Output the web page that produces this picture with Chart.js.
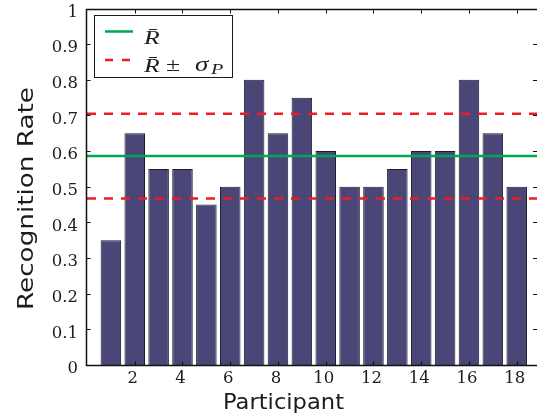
<!DOCTYPE html>
<html>
<head>
<meta charset="utf-8">
<script src="https://cdn.jsdelivr.net/npm/chart.js@4.4.1/dist/chart.umd.min.js"></script>
<style>
  html, body { margin: 0; padding: 0; background: #fff; }
  canvas { display: block; }
</style>
</head>
<body>
<canvas id="rateChart" width="537" height="419"></canvas>
<script>
// ---- data ----
const participants = [1, 2, 3, 4, 5, 6, 7, 8, 9, 10, 11, 12, 13, 14, 15, 16, 17, 18];
const recognitionRate = [0.35, 0.65, 0.55, 0.55, 0.45, 0.5, 0.8, 0.65, 0.75, 0.6, 0.5, 0.5, 0.55, 0.6, 0.6, 0.8, 0.65, 0.5];
const meanRate = [0.586, 0.586];
const upperRate = [0.705, 0.705];
const lowerRate = [0.467, 0.467];
const lineSpan = [0, 18.85];
const xTicks = [2, 4, 6, 8, 10, 12, 14, 16, 18];
const yTicks = [0, 0.1, 0.2, 0.3, 0.4, 0.5, 0.6, 0.7, 0.8, 0.9, 1];

const ink = '#1c1c1c';
const toPoints = (xs, ys) => xs.map((x, i) => ({ x, y: ys[i] }));

// text stretched to a target length (the source figure is scaled unevenly)
function stretchText(ctx, text, x, y, width) {
    const w = ctx.measureText(text).width;
    ctx.save();
    ctx.translate(x, y);
    ctx.scale(width / w, 1);
    ctx.fillText(text, 0, 0);
    ctx.restore();
}

function glyph(ctx, text, x, y, sx) {
    ctx.save();
    ctx.translate(x, y);
    ctx.scale(sx, 1);
    ctx.fillText(text, 0, 0);
    ctx.restore();
}

// frame + inward ticks, matlab style
function drawFrame(chart) {
    const ctx = chart.ctx;
    const x = chart.scales.x, y = chart.scales.y;
    const left = Math.round(x.left) - 0.5, right = x.right;
    const top = Math.round(y.top) + 0.5, bottom = Math.round(y.bottom) + 0.5;
    ctx.save();
    ctx.setLineDash([]);
    ctx.strokeStyle = '#111';
    ctx.lineWidth = 1.5;
    ctx.beginPath();
    ctx.moveTo(right, top); ctx.lineTo(left, top);
    ctx.lineTo(left, bottom); ctx.lineTo(right, bottom);
    ctx.stroke();
    ctx.lineWidth = 1;
    ctx.beginPath();
    xTicks.forEach(v => {
        const px = Math.round(x.getPixelForValue(v)) + 0.5;
        ctx.moveTo(px, top); ctx.lineTo(px, top + 4);
        ctx.moveTo(px, bottom); ctx.lineTo(px, bottom - 4);
    });
    yTicks.forEach(v => {
        const py = Math.round(y.getPixelForValue(v)) + 0.5;
        ctx.moveTo(left, py); ctx.lineTo(left + 4, py);
        ctx.moveTo(right, py); ctx.lineTo(right - 4, py);
    });
    ctx.stroke();
    ctx.restore();
}

// axis titles + legend with math labels
const labelPlugin = {
    id: 'mathLabels',
    afterDraw(chart) {
        drawFrame(chart);
        const { ctx } = chart;
        ctx.save();
        ctx.fillStyle = ink;
        ctx.font = '22px "DejaVu Sans"';
        ctx.textAlign = 'left';
        ctx.textBaseline = 'alphabetic';
        stretchText(ctx, 'Participant', 223, 409, 121);

        ctx.save();
        ctx.translate(33, 310);
        ctx.rotate(-Math.PI / 2);
        stretchText(ctx, 'Recognition Rate', 0, 0, 223);
        ctx.restore();

        // legend box
        ctx.fillStyle = '#fff';
        ctx.fillRect(94.5, 15.5, 138, 62);
        ctx.strokeStyle = ink;
        ctx.lineWidth = 1;
        ctx.strokeRect(94.5, 15.5, 138, 62);

        ctx.lineWidth = 2.5;
        ctx.strokeStyle = '#00a651';
        ctx.beginPath(); ctx.moveTo(105, 31.5); ctx.lineTo(133, 31.5); ctx.stroke();
        ctx.strokeStyle = '#ed1c24';
        ctx.setLineDash([8, 9]);
        ctx.beginPath(); ctx.moveTo(105, 60); ctx.lineTo(131, 60); ctx.stroke();
        ctx.setLineDash([]);

        ctx.fillStyle = ink;
        ctx.font = 'italic 19px "Liberation Serif"';
        glyph(ctx, 'R\u0304', 144, 44, 1.35);
        glyph(ctx, 'R\u0304', 144, 72, 1.35);
        ctx.font = '19px "Liberation Serif"';
        glyph(ctx, '\u00b1', 166, 71, 1.35);
        ctx.font = 'italic 20px "Liberation Serif"';
        glyph(ctx, '\u03c3', 195, 71, 1.35);
        ctx.font = 'italic 15px "Liberation Serif"';
        glyph(ctx, 'P', 211, 74, 1.35);
        ctx.restore();
    }
};

new Chart(document.getElementById('rateChart'), {
    type: 'bar',
    data: {
        datasets: [
            {
                type: 'line',
                data: toPoints(lineSpan, meanRate),
                borderColor: '#00a651',
                borderWidth: 2.5,
                pointRadius: 0,
                order: 1
            },
            {
                type: 'line',
                data: toPoints(lineSpan, upperRate),
                borderColor: '#ed1c24',
                borderWidth: 2.5,
                borderDash: [9, 8],
                pointRadius: 0,
                order: 1
            },
            {
                type: 'line',
                data: toPoints(lineSpan, lowerRate),
                borderColor: '#ed1c24',
                borderWidth: 2.5,
                borderDash: [9, 8],
                pointRadius: 0,
                order: 1
            },
            {
                type: 'bar',
                data: toPoints(participants, recognitionRate),
                backgroundColor: '#4a4677',
                borderColor: '#1b1b2b',
                borderWidth: 1,
                barPercentage: 0.86,
                categoryPercentage: 1,
                order: 2
            }
        ]
    },
    options: {
        responsive: false,
        animation: false,
        layout: { padding: { top: 8.5, right: 0, left: 0, bottom: 0 } },
        plugins: {
            legend: { display: false },
            tooltip: { enabled: false }
        },
        scales: {
            x: {
                type: 'linear',
                offset: false,
                min: 0,
                max: 18.85,
                grid: { display: false, drawTicks: false },
                border: { display: false },
                afterBuildTicks: s => { s.ticks = xTicks.map(v => ({ value: v })); },
                afterFit: s => {
                    s.height = 54;
                    s.paddingLeft = 0;
                    s.paddingRight = 0;
                },
                ticks: {
                    padding: 4,
                    labelOffset: -2,
                    maxRotation: 0,
                    color: ink,
                    font: { family: 'DejaVu Serif', size: 16.5 }
                }
            },
            y: {
                min: 0,
                max: 1,
                grid: { display: false, drawTicks: false },
                border: { display: false },
                afterBuildTicks: s => { s.ticks = yTicks.map(v => ({ value: v })); },
                afterFit: s => {
                    s.width = 87;
                    s.paddingTop = 0;
                    s.paddingBottom = 0;
                },
                ticks: {
                    padding: 9,
                    labelOffset: 4,
                    color: ink,
                    font: { family: 'DejaVu Serif', size: 16.5 },
                    callback: v => String(Math.round(v * 10) / 10)
                }
            }
        }
    },
    plugins: [labelPlugin]
});
</script>
</body>
</html>
